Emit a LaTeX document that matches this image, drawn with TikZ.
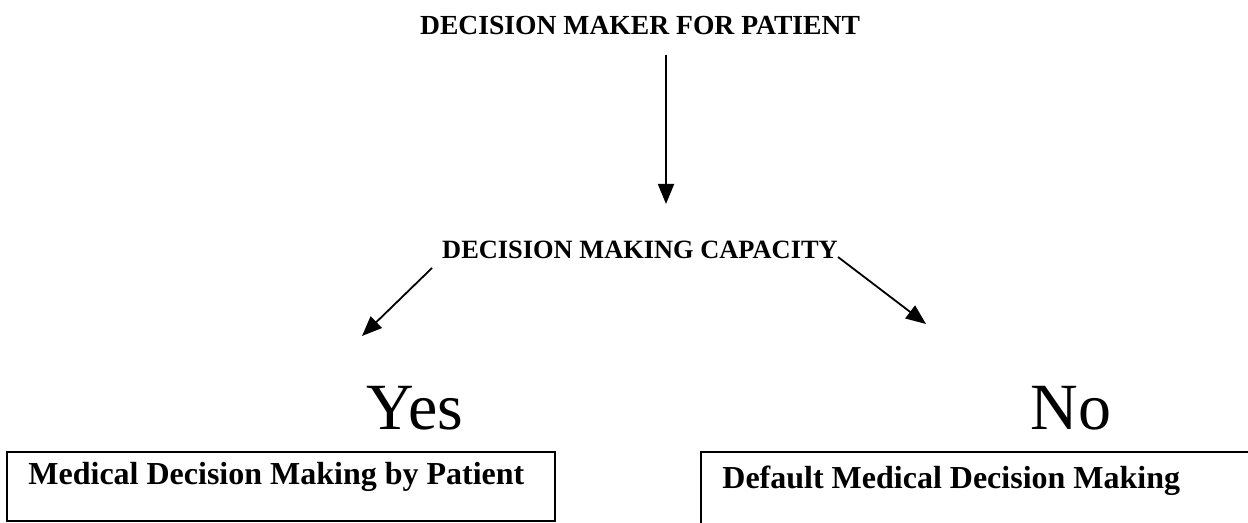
\documentclass[tikz,border=0pt]{standalone}
\usepackage{fontspec}
\setmainfont{Liberation Serif}
\usetikzlibrary{arrows.meta}
\begin{document}
\begin{tikzpicture}[x=0.5pt,y=-0.5pt,
  hdr/.style={font=\bfseries\fontsize{13.8}{16}\selectfont, inner sep=0pt, anchor=base},
  hdrb/.style={font=\bfseries\fontsize{13.2}{16}\selectfont, inner sep=0pt, anchor=base},
  big/.style={font=\fontsize{33}{36}\selectfont, inner sep=0pt, anchor=base},
  boxtxt/.style={font=\bfseries\fontsize{16}{18}\selectfont, inner sep=0pt, anchor=base west},
  conn/.style={line width=0.9pt, -{Triangle[length=10pt,width=8pt]}},
  frame/.style={draw, line width=0.9pt}]
\useasboundingbox (0,0) rectangle (1248,523);
\node[hdr] (top) at (640,35) {DECISION MAKER FOR PATIENT};
\node[hdrb] (cap) at (640,259) {DECISION MAKING CAPACITY};
\node[big] (yes) at (415,430) {Yes};
\node[big] (no) at (1071,430) {No};
\draw[frame] (7,452) rectangle (555,521);
\node[boxtxt] (lt) at (28,485) {Medical Decision Making by Patient};
\draw[frame] (1260,452) -- (701,452) -- (701,535);
\node[boxtxt] (rt) at (722,488) {Default Medical Decision Making};
\coordinate (d1) at (666,55);
\coordinate (d2) at (666,204);
\coordinate (l1) at (432,268);
\coordinate (l2) at (362,336);
\coordinate (r1) at (838,257);
\coordinate (r2) at (926,324);
\draw[conn] (d1) -- (d2);
\draw[conn] (l1) -- (l2);
\draw[conn] (r1) -- (r2);
\end{tikzpicture}
\end{document}
